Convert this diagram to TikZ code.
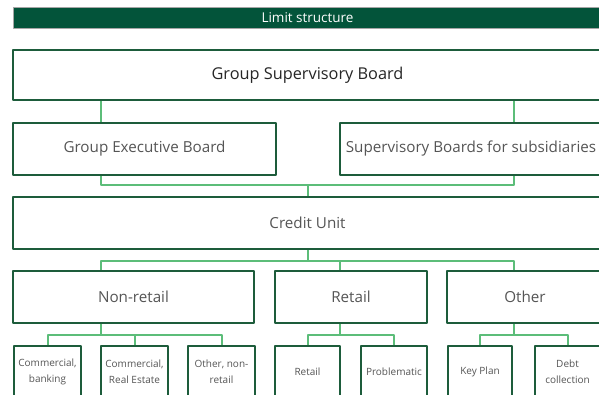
\documentclass[tikz,border=0pt]{standalone}
\usepackage{fontspec}
\setmainfont{Open Sans}
\definecolor{darkgreen}{HTML}{03543A}
\definecolor{boxgreen}{HTML}{1D5C3B}
\definecolor{linkgreen}{HTML}{5CBD79}
\definecolor{textgrey}{HTML}{555555}
\tikzset{
  header/.style={fill=darkgreen, draw=gray!70, line width=1pt, text=white,
    minimum width=589pt, minimum height=21pt, inner sep=0pt, font=\fontsize{13.5}{15}\selectfont},
  unit/.style={draw=boxgreen, line width=1.8pt, fill=white, text=textgrey,
    minimum height=52pt, inner sep=0pt, font=\fontsize{15.2}{17}\selectfont},
  small/.style={unit, align=center, font=\fontsize{10}{16}\selectfont},
  link/.style={draw=linkgreen, line width=2pt}
}
\begin{document}
\begin{tikzpicture}[x=1pt, y=-1pt, line join=round]
\useasboundingbox (0,0) rectangle (599,394);
\clip (0,0) rectangle (599,394);

\coordinate (colA) at (101,0);
\coordinate (colB) at (514,0);
\coordinate (colC) at (340,0);
\coordinate (mid) at (307.5,0);

\node[header] (title) at (307.5,17.5) {Limit structure};
\node[unit, minimum width=589pt, minimum height=50pt, text=black!85, font=\fontsize{16.3}{18}\selectfont] (gsb) at (307.5,75) {Group Supervisory Board};
\node[unit, minimum width=263pt] (geb) at (144.5,149) {Group Executive Board};
\node[unit, minimum width=262pt] (sbs) at (471,149) {Supervisory Boards for subsidiaries};
\node[unit, minimum width=589pt] (credit) at (307.5,223) {Credit Unit};
\node[unit, minimum width=241pt] (nonretail) at (133.5,297) {Non-retail};
\node[unit, minimum width=152pt] (retail) at (351,297) {Retail};
\node[unit, minimum width=156pt] (other) at (525,297) {Other};

\node[small, minimum width=67pt] (combank) at (47.5,372) {Commercial,\\banking};
\node[small, minimum width=67pt] (comre) at (134.5,372) {Commercial,\\Real Estate};
\node[small, minimum width=67pt] (othernr) at (221.5,372) {Other, non-\\retail};
\node[small, minimum width=65pt] (retailsub) at (307.5,372) {Retail};
\node[small, minimum width=66pt] (problem) at (394,372) {Problematic};
\node[small, minimum width=64pt] (keyplan) at (480,372) {Key Plan};
\node[small, minimum width=65pt] (debt) at (567.5,372) {Debt\\collection};

\draw[link] (gsb.south -| colA) -- (geb.north -| colA);
\draw[link] (gsb.south -| colB) -- (sbs.north -| colB);
\path (credit.north -| mid) ++(0,-11) coordinate (j1);
\draw[link] (geb.south -| colA) |- (j1);
\draw[link] (sbs.south -| colB) |- (j1);
\draw[link] (j1) -- (credit.north -| mid);

\path (credit.south -| mid) ++(0,11) coordinate (j2);
\draw[link] (credit.south -| mid) -- (j2);
\draw[link] (nonretail.north -| colA) |- (j2);
\draw[link] (other.north -| colB) |- (j2);
\draw[link] (retail.north -| colC) -- (j2 -| colC);

\path (nonretail.south -| colA) ++(0,11) coordinate (j3);
\draw[link] (nonretail.south -| colA) -- (j3);
\draw[link] (combank.north) |- (j3);
\draw[link] (othernr.north) |- (j3);
\draw[link] (comre.north) -- (comre.north |- j3);

\path (retail.south -| colC) ++(0,11) coordinate (j4);
\draw[link] (retail.south -| colC) -- (j4);
\draw[link] (retailsub.north) |- (j4);
\draw[link] (problem.north) |- (j4);

\path (other.south -| colB) ++(0,11) coordinate (j5);
\draw[link] (other.south -| colB) -- (j5);
\draw[link] (keyplan.north) |- (j5);
\draw[link] (debt.north) |- (j5);
\end{tikzpicture}
\end{document}
